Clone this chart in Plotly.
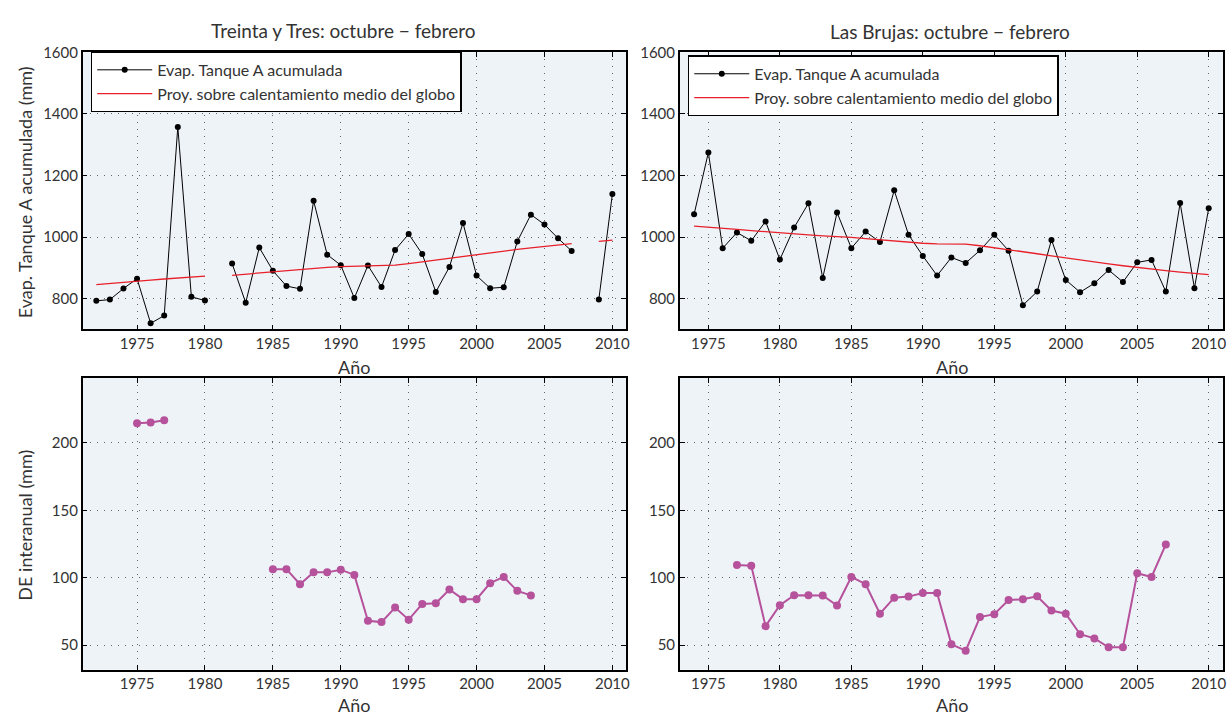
import plotly.graph_objects as go

# ---------------- data ----------------
tt_years = list(range(1972, 2011))
tt_evap = [793, 797, 833, 865, 720, 745, 1358, 806, 794, None,
           914, 787, 966, 891, 841, 832, 1118, 943, 909, 802, 908, 838, 958, 1010, 945,
           822, 903, 1046, 875, 834, 837, 986, 1073, 1041, 996, 955, None, 797, 1140]
tt_proj = [846, 849, 852, 856, 860, 864, 867, 870, 873, None,
           876, 880, 883, 887, 891, 895, 899, 902, 904, 905, 905, 906, 909, 914, 920,
           926, 932, 938, 944, 949, 955, 960, 965, 970, 975, 979, None, 986, 990]

lb_years = list(range(1974, 2011))
lb_evap = [1074, 1275, 964, 1015, 988, 1051, 927, 1031, 1110, 867,
           1080, 964, 1018, 984, 1152, 1008, 939, 875, 934, 916,
           957, 1008, 956, 779, 823, 991, 861, 821, 850, 893,
           854, 918, 926, 823, 1111, 834, 1094]
lb_proj = [1036, 1033, 1029, 1025, 1021, 1017, 1013, 1010, 1007, 1004,
           1002, 999, 995, 991, 987, 983, 980, 978, 977, 977,
           972, 966, 960, 953, 946, 939, 932, 926, 920, 913,
           907, 901, 896, 891, 886, 882, 878]

tt_de_years = list(range(1975, 2005))
tt_de = [214.6, 215.1, 216.8, None, None, None, None, None, None, None,
         106.3, 106.3, 95.1, 103.9, 103.9, 105.9, 102, 68, 67, 77.8,
         68.8, 80.5, 81, 91.2, 84, 84, 95.9, 100.5, 90.2, 86.8]

lb_de_years = list(range(1977, 2008))
lb_de = [109.3, 108.8, 64, 79.5, 87, 87, 86.8, 79.3, 100.5, 95.1,
         73.2, 85.1, 85.9, 88.6, 88.6, 50.5, 45.8, 70.7, 72.9, 83.4,
         83.9, 86.1, 75.6, 73.2, 58, 54.9, 48.3, 48.3, 103.2, 100.5, 124.6]

x_ticks = [1975, 1980, 1985, 1990, 1995, 2000, 2005, 2010]
evap_ticks = [800, 1000, 1200, 1400, 1600]
de_ticks = [50, 100, 150, 200]

titles = ["Treinta y Tres: octubre \u2212 febrero", "Las Brujas: octubre \u2212 febrero"]
legend_names = ["Evap. Tanque A acumulada", "Proy. sobre calentamiento medio del globo"]

# ---------------- style ----------------
FONT = "Lato, 'Open Sans', sans-serif"
TXT = "#333333"
BG = "#EEF3F8"
PURPLE = "#B5529B"
RED = "#E8202A"
W, H = 1231, 716

fig = go.Figure()

# top-left
fig.add_trace(go.Scatter(x=tt_years, y=tt_evap, mode="lines+markers", name=legend_names[0],
                         line=dict(color="black", width=1), marker=dict(color="black", size=6),
                         xaxis="x", yaxis="y", legend="legend", connectgaps=False))
fig.add_trace(go.Scatter(x=tt_years, y=tt_proj, mode="lines", name=legend_names[1],
                         line=dict(color=RED, width=1.3), xaxis="x", yaxis="y",
                         legend="legend", connectgaps=False))
# top-right
fig.add_trace(go.Scatter(x=lb_years, y=lb_evap, mode="lines+markers", name=legend_names[0],
                         line=dict(color="black", width=1), marker=dict(color="black", size=6),
                         xaxis="x2", yaxis="y2", legend="legend2"))
fig.add_trace(go.Scatter(x=lb_years, y=lb_proj, mode="lines", name=legend_names[1],
                         line=dict(color=RED, width=1.3), xaxis="x2", yaxis="y2",
                         legend="legend2"))
# bottom-left
fig.add_trace(go.Scatter(x=tt_de_years, y=tt_de, mode="lines+markers", showlegend=False,
                         line=dict(color=PURPLE, width=2), marker=dict(color=PURPLE, size=8),
                         xaxis="x3", yaxis="y3", connectgaps=False))
# bottom-right
fig.add_trace(go.Scatter(x=lb_de_years, y=lb_de, mode="lines+markers", showlegend=False,
                         line=dict(color=PURPLE, width=2), marker=dict(color=PURPLE, size=8),
                         xaxis="x4", yaxis="y4"))

def px_x(p):
    return p / W

def px_y(p):
    return 1 - p / H

dom_xl = [px_x(83), px_x(628)]
dom_xr = [px_x(682), px_x(1227)]
dom_yt = [px_y(324), px_y(43)]
dom_yb = [px_y(669), px_y(373)]

axis_common = dict(showline=True, linecolor="black", linewidth=1.5, mirror="allticks",
                   ticks="inside", ticklen=5, tickcolor="black", tickwidth=1,
                   showgrid=True, gridcolor="#666666", griddash="1px,6px", gridwidth=1,
                   zeroline=False, tickfont=dict(family=FONT, size=15, color=TXT))

def xax(domain, anchor, rng):
    d = dict(axis_common)
    d.update(domain=domain, anchor=anchor, range=rng, tickvals=x_ticks,
             ticktext=[str(v) for v in x_ticks])
    return d

def yax(domain, anchor, rng, tv):
    d = dict(axis_common)
    d.update(domain=domain, anchor=anchor, range=rng, tickvals=tv,
             ticktext=[str(v) for v in tv])
    return d

fig.update_layout(
    width=W, height=H,
    margin=dict(l=0, r=0, t=0, b=0),
    paper_bgcolor="white", plot_bgcolor=BG,
    font=dict(family=FONT, color=TXT),
    xaxis=xax(dom_xl, "y", [1971, 2011]),
    yaxis=yax(dom_yt, "x", [700, 1600], evap_ticks),
    xaxis2=xax(dom_xr, "y2", [1973, 2011]),
    yaxis2=yax(dom_yt, "x2", [700, 1600], evap_ticks),
    xaxis3=xax(dom_xl, "y3", [1971, 2011]),
    yaxis3=yax(dom_yb, "x3", [31.7, 248.3], de_ticks),
    xaxis4=xax(dom_xr, "y4", [1973, 2011]),
    yaxis4=yax(dom_yb, "x4", [31.7, 248.3], de_ticks),
    legend=dict(x=px_x(91), y=px_y(42), xanchor="left", yanchor="top",
                bgcolor="white", bordercolor="black", borderwidth=1.5,
                font=dict(family=FONT, size=16, color=TXT), itemwidth=55,
                tracegroupgap=0),
    legend2=dict(x=px_x(690), y=px_y(46), xanchor="left", yanchor="top",
                 bgcolor="white", bordercolor="black", borderwidth=1.5,
                 font=dict(family=FONT, size=16, color=TXT), itemwidth=55,
                 tracegroupgap=0),
)

ann = []
def add_text(text, x, y, size=17, angle=0):
    ann.append(dict(text=text, x=px_x(x), y=px_y(y), xref="paper", yref="paper",
                    xanchor="center", yanchor="middle", showarrow=False, textangle=angle,
                    font=dict(family=FONT, size=size, color=TXT)))

add_text(titles[0], 345, 21, size=19)
add_text(titles[1], 953, 22, size=19)
for xx, yy in [(355, 362), (955, 362), (355, 705), (955, 705)]:
    add_text("A\u00f1o", xx, yy, size=18)
add_text("Evap. Tanque A acumulada (mm)", 25, 185, size=18, angle=-90)
add_text("DE interanual (mm)", 25, 522, size=18, angle=-90)
fig.update_layout(annotations=ann)

fig.write_html("out.html", config={"displayModeBar": False},
               post_script="document.body.style.margin='0';document.body.style.overflow='hidden';")
